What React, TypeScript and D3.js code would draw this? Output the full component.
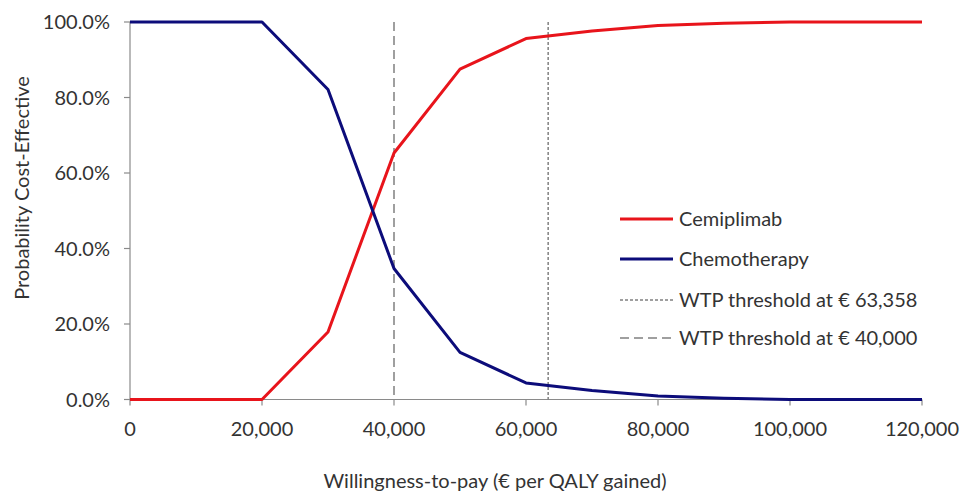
import React from "react";
import * as d3 from "d3";

const wtp = [0, 10000, 20000, 30000, 40000, 50000, 60000, 70000, 80000, 90000, 100000, 110000, 120000];
const cemiplimab = [0, 0, 0, 17.9, 65.3, 87.5, 95.6, 97.6, 99.1, 99.7, 100, 100, 100];
const chemotherapy = [100, 100, 100, 82.1, 34.7, 12.5, 4.4, 2.4, 0.9, 0.3, 0, 0, 0];
const xTicks = [0, 20000, 40000, 60000, 80000, 100000, 120000];
const yTicks = [0, 20, 40, 60, 80, 100];
const thresholds = [
  { value: 63358, label: "WTP threshold at € 63,358", dash: "3,2" },
  { value: 40000, label: "WTP threshold at € 40,000", dash: "9,5" },
];
const seriesNames = ["Cemiplimab", "Chemotherapy"];
const seriesColors = ["#e8141b", "#0c0c7a"];

const W = 962;
const H = 500;
const FONT = "Lato, 'Open Sans', sans-serif";
const FS = 20;

export default function App() {
  const x = d3.scaleLinear().domain([0, 120000]).range([130, 922]);
  const y = d3.scaleLinear().domain([0, 100]).range([399.5, 22]);
  const line = d3
    .line<number>()
    .x((_, i) => x(wtp[i]))
    .y((d) => y(d));
  const fmtX = d3.format(",");
  const series = [cemiplimab, chemotherapy];
  const axisColor = "#8a8a8a";
  const textColor = "#333";

  const legendX1 = 620;
  const legendX2 = 673;
  const legendRows = [219, 259, 300, 338];

  return (
    <svg
      width={W}
      height={H}
      style={{ position: "absolute", left: 0, top: 0, background: "#fff" }}
      fontFamily={FONT}
    >
      <rect x={0} y={0} width={W} height={H} fill="#fff" />
      {/* axes */}
      <line x1={x(0)} x2={x(0)} y1={y(100)} y2={y(0)} stroke={axisColor} strokeWidth={1.2} />
      <line x1={x(0)} x2={x(120000)} y1={y(0)} y2={y(0)} stroke={axisColor} strokeWidth={1.2} />
      {yTicks.map((t) => (
        <g key={"y" + t}>
          <line x1={x(0) - 6} x2={x(0)} y1={y(t)} y2={y(t)} stroke={axisColor} strokeWidth={1.2} />
          <text
            x={110}
            y={y(t)}
            dy="0.35em"
            textAnchor="end"
            fontSize={FS}
            fill={textColor}
          >
            {t.toFixed(1) + "%"}
          </text>
        </g>
      ))}
      {xTicks.map((t) => (
        <g key={"x" + t}>
          <line x1={x(t)} x2={x(t)} y1={y(0)} y2={y(0) + 6} stroke={axisColor} strokeWidth={1.2} />
          <text x={x(t)} y={436} textAnchor="middle" fontSize={FS} fill={textColor}>
            {fmtX(t)}
          </text>
        </g>
      ))}
      {/* threshold lines */}
      {thresholds.map((th) => (
        <line
          key={th.label}
          x1={x(th.value)}
          x2={x(th.value)}
          y1={y(100)}
          y2={y(0)}
          stroke="#808080"
          strokeWidth={1.5}
          strokeDasharray={th.dash}
        />
      ))}
      {/* series */}
      {series.map((s, i) => (
        <path
          key={seriesNames[i]}
          d={line(s) || ""}
          fill="none"
          stroke={seriesColors[i]}
          strokeWidth={3}
          strokeLinejoin="round"
        />
      ))}
      {/* legend */}
      {seriesNames.map((n, i) => (
        <g key={"lg" + n}>
          <line x1={legendX1} x2={legendX2} y1={legendRows[i]} y2={legendRows[i]} stroke={seriesColors[i]} strokeWidth={3} />
          <text x={679} y={legendRows[i]} dy="0.35em" fontSize={FS} fill={textColor}>
            {n}
          </text>
        </g>
      ))}
      {thresholds.map((th, i) => (
        <g key={"lt" + th.label}>
          <line
            x1={legendX1}
            x2={legendX2}
            y1={legendRows[i + 2]}
            y2={legendRows[i + 2]}
            stroke="#808080"
            strokeWidth={1.5}
            strokeDasharray={th.dash}
          />
          <text x={679} y={legendRows[i + 2]} dy="0.35em" fontSize={FS} fill={textColor}>
            {th.label}
          </text>
        </g>
      ))}
      {/* axis titles */}
      <text x={495} y={488} textAnchor="middle" fontSize={FS} fill={textColor}>
        Willingness-to-pay (€ per QALY gained)
      </text>
      <text
        transform={`translate(22,188) rotate(-90)`}
        textAnchor="middle"
        dy="0.35em"
        fontSize={FS}
        fill={textColor}
      >
        Probability Cost-Effective
      </text>
    </svg>
  );
}
